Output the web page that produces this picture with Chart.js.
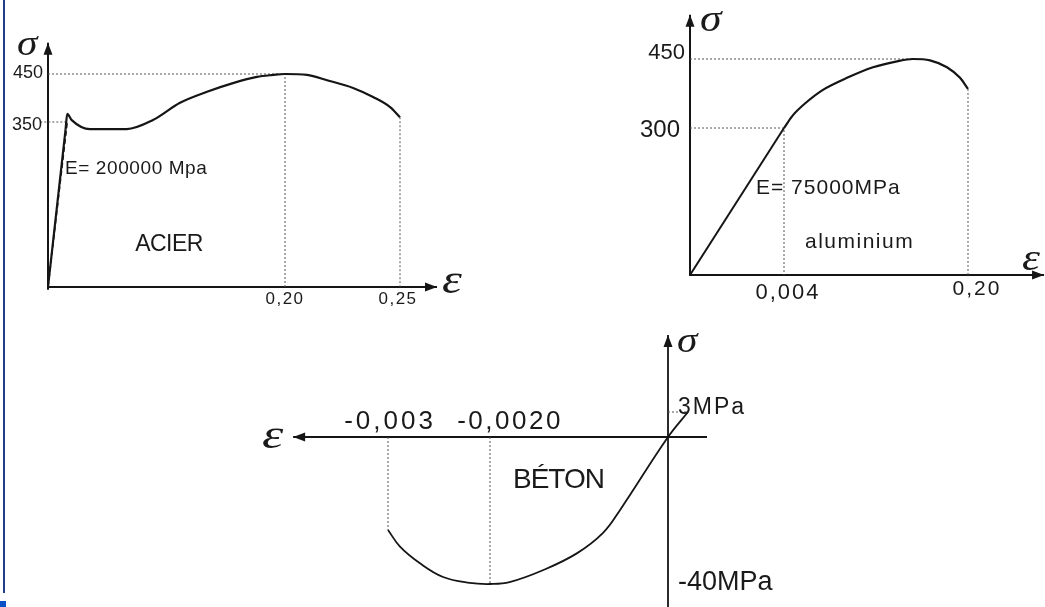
<!DOCTYPE html>
<html>
<head>
<meta charset="utf-8">
<title>Courbes contrainte-déformation</title>
<script src="https://cdn.jsdelivr.net/npm/chart.js@4.4.1/dist/chart.umd.min.js"></script>
<style>
  html, body { margin: 0; padding: 0; background: #fff; }
  #sheet { position: relative; width: 1045px; height: 607px; overflow: hidden; background: #fff; }
  #sheet canvas { position: absolute; left: 0; top: 0; }
  .edge { position: absolute; left: 3px; top: 0; width: 2px; height: 593px; background: #1f3d8e; }
  .corner { position: absolute; left: 0; top: 601px; width: 6px; height: 6px; background: #0b50c4; }
</style>
</head>
<body>
<div id="sheet">
  <canvas id="acier" width="1045" height="607"></canvas>
  <canvas id="alu" width="1045" height="607"></canvas>
  <canvas id="beton" width="1045" height="607"></canvas>
  <div class="edge"></div>
  <div class="corner"></div>
</div>
<script>
  // Acier : déformation / contrainte (MPa)
  const acierStrain = [0, 0.0016, 0.00175, 0.0036, 0.0204, 0.0542, 0.0784, 0.1033, 0.1282, 0.1521, 0.1742, 0.1889, 0.2, 0.2096, 0.2183, 0.2296, 0.2383, 0.2457, 0.25];
  const acierStress = [0, 335, 367, 354, 335, 335, 354, 390, 413, 431, 444, 448, 450, 448, 437, 421, 402, 381, 360];
  const acierModulusStrain = [0, 0.00175];
  const acierModulusStress = [0, 350];
  const acierTicksX = [0.20, 0.25];
  const acierTickLabelsX = ['0,20', '0,25'];
  const acierTicksY = [350, 450];
  const acierTickLabelsY = ['350', '450'];

  // Aluminium
  const aluStrain = [0, 0.004, 0.0136, 0.0285, 0.0455, 0.0711, 0.0988, 0.1244, 0.1414, 0.1595, 0.1776, 0.1915, 0.2];
  const aluStress = [0, 300, 328, 357, 383, 409, 432, 445, 450, 447, 432, 409, 385];
  const aluTicksX = [0.004, 0.20];
  const aluTickLabelsX = ['0,004', '0,20'];
  const aluTicksY = [300, 450];
  const aluTickLabelsY = ['300', '450'];

  // Béton (compression négative)
  const betonStrain = [-0.003, -0.00288, -0.00269, -0.00246, -0.0022, -0.002, -0.00178, -0.0014, -0.00102, -0.00073, -0.00054, 0, 0.0001];
  const betonStress = [-25.3, -29.9, -34.3, -38.1, -39.7, -40, -39.5, -36.2, -31.6, -26.1, -19.9, 0, 3];
  const betonTicksX = [-0.003, -0.002];
  const betonTickLabelsX = ['-0,003', '-0,0020'];
  const betonTicksY = [3, -40];
  const betonTickLabelsY = ['3MPa', '-40MPa'];

  const INK = '#151515';
  const GUIDE = '#555';
  const SANS = '"Liberation Sans", Arial, sans-serif';
  const SERIF = '"Liberation Serif", "Times New Roman", serif';

  // Linear scale whose value -> pixel mapping is broken into segments,
  // the way these schematic diagrams are drawn (not to scale).
  class PiecewiseScale extends Chart.LinearScale {
    static id = 'piecewise';
    static defaults = {};

    getPixelForValue(value) {
      const breaks = this.options.breaks;
      const at = this.options.at;
      const area = this.chart.chartArea;
      const base = this.isHorizontal() ? area.left : area.top;
      let i = 1;
      while (i < breaks.length - 1 && value > breaks[i]) i++;
      const t = (value - breaks[i - 1]) / (breaks[i] - breaks[i - 1]);
      return base + at[i - 1] + t * (at[i] - at[i - 1]);
    }

    getValueForPixel(pixel) {
      const breaks = this.options.breaks;
      const at = this.options.at;
      const area = this.chart.chartArea;
      const p = pixel - (this.isHorizontal() ? area.left : area.top);
      let i = 1;
      while (i < at.length - 1 && (at[1] > at[0] ? p > at[i] : p < at[i])) i++;
      const t = (p - at[i - 1]) / (at[i] - at[i - 1]);
      return breaks[i - 1] + t * (breaks[i] - breaks[i - 1]);
    }
  }
  Chart.register(PiecewiseScale);

  // axes, arrows and texts for each diagram, keyed by canvas id
  const overlays = {};

  function arrowHead(ctx, tx, ty, dx, dy) {
    const len = 12, half = 4.5;
    const bx = tx - dx * len, by = ty - dy * len;
    ctx.beginPath();
    ctx.moveTo(tx, ty);
    ctx.lineTo(bx - dy * half, by + dx * half);
    ctx.lineTo(bx + dy * half, by - dx * half);
    ctx.closePath();
    ctx.fill();
  }

  const sketchAxes = {
    id: 'sketchAxes',
    beforeDatasetsDraw(chart) {
      const o = overlays[chart.canvas.id];
      const { ctx } = chart;
      const xs = chart.scales.x, ys = chart.scales.y;
      const ox = xs.getPixelForValue(0), oy = ys.getPixelForValue(0);
      const xa = xs.getPixelForValue(o.xAxis[0]), xb = xs.getPixelForValue(o.xAxis[1]);
      const ya = ys.getPixelForValue(o.yAxis[0]), yb = ys.getPixelForValue(o.yAxis[1]);
      ctx.save();
      ctx.strokeStyle = INK;
      ctx.fillStyle = INK;
      ctx.lineWidth = o.axisWidth;
      ctx.beginPath();
      ctx.moveTo(xa, oy); ctx.lineTo(xb, oy);
      ctx.moveTo(ox, ya); ctx.lineTo(ox, yb);
      ctx.stroke();
      arrowHead(ctx, xb, oy, xb > xa ? 1 : -1, 0);
      arrowHead(ctx, ox, yb, 0, yb < ya ? -1 : 1);
      ctx.restore();
    },
    afterDatasetsDraw(chart) {
      const o = overlays[chart.canvas.id];
      const { ctx } = chart;
      const xs = chart.scales.x, ys = chart.scales.y;
      o.labels.forEach(l => {
        ctx.save();
        ctx.fillStyle = '#1a1a1a';
        ctx.font = l.font;
        ctx.textAlign = l.align || 'left';
        ctx.textBaseline = l.baseline || 'middle';
        ctx.letterSpacing = (l.spacing || 0) + 'px';
        ctx.translate(xs.getPixelForValue(l.x) + (l.dx || 0), ys.getPixelForValue(l.y) + (l.dy || 0));
        // the Greek symbols are drawn a bit wider than the font gives them
        if (l.stretch) ctx.scale(l.stretch, 1);
        ctx.fillText(l.text, 0, 0);
        ctx.restore();
      });
    }
  };
  Chart.register(sketchAxes);

  function pts(xs, ys) {
    return xs.map((v, i) => ({ x: v, y: ys[i] }));
  }

  function curve(data, width) {
    return {
      data: data,
      showLine: true,
      borderColor: INK,
      borderWidth: width || 2,
      pointRadius: 0,
      cubicInterpolationMode: 'monotone',
      fill: false
    };
  }

  function straight(data, width, dash) {
    return {
      data: data,
      showLine: true,
      borderColor: INK,
      borderWidth: width,
      borderDash: dash || [],
      pointRadius: 0,
      tension: 0,
      fill: false
    };
  }

  function guide(data) {
    return {
      data: data,
      showLine: true,
      borderColor: GUIDE,
      borderWidth: 1,
      borderDash: [2, 2],
      pointRadius: 0,
      tension: 0,
      fill: false
    };
  }

  function drawDiagram(id, xBreaks, xAt, yBreaks, yAt, datasets) {
    const ctx = document.getElementById(id).getContext('2d');
    return new Chart(ctx, {
      type: 'scatter',
      data: { datasets: datasets },
      options: {
        responsive: false,
        animation: false,
        events: [],
        layout: { padding: 0 },
        plugins: { legend: { display: false }, tooltip: { enabled: false } },
        scales: {
          x: { type: 'piecewise', display: false, breaks: xBreaks, at: xAt },
          y: { type: 'piecewise', display: false, breaks: yBreaks, at: yAt }
        }
      }
    });
  }

  // ---- ACIER ----
  overlays.acier = {
    xAxis: [0, 0.2661],
    yAxis: [-6, 515],
    axisWidth: 2,
    labels: [
      { text: acierTickLabelsY[1], x: 0, y: acierTicksY[1], dx: -5, dy: -1, font: '18px ' + SANS, align: 'right' },
      { text: acierTickLabelsY[0], x: 0, y: acierTicksY[0], dx: -6, dy: 3, font: '18px ' + SANS, align: 'right' },
      { text: acierTickLabelsX[0], x: acierTicksX[0], y: 0, dx: 0, dy: 12, font: '17px ' + SANS, align: 'center', spacing: 1.5 },
      { text: acierTickLabelsX[1], x: acierTicksX[1], y: 0, dx: -2, dy: 12, font: '17px ' + SANS, align: 'center', spacing: 1.5 },
      { text: 'E= 200000 Mpa', x: 0.00145, y: 250, dx: 1, font: '19px ' + SANS, spacing: 0.6 },
      { text: 'ACIER', x: 0.062, y: 89, font: '23px ' + SANS, spacing: -0.5 },
      { text: 'σ', x: 0, y: 450, dx: -31, dy: -19, font: 'italic 36px ' + SERIF, baseline: 'alphabetic', stretch: 1.15 },
      { text: 'ε', x: 0.25, y: 0, dx: 42, dy: 6, font: 'italic 42px ' + SERIF, baseline: 'alphabetic', stretch: 1.2 }
    ]
  };
  drawDiagram('acier', [0, 0.002, 0.2, 0.25], [48, 70, 285, 400], [0, 350, 450], [287, 122, 74], [
    straight(pts(acierStrain.slice(0, 2), acierStress.slice(0, 2)), 2.2),
    curve(pts(acierStrain.slice(1), acierStress.slice(1)), 2.2),
    straight(pts(acierModulusStrain, acierModulusStress), 1.6, [5, 3]),
    guide([{ x: 0, y: 450 }, { x: 0.2, y: 450 }, { x: 0.2, y: 0 }]),
    guide([{ x: 0.25, y: acierStress[acierStress.length - 1] }, { x: 0.25, y: 0 }]),
    guide([{ x: -0.0007, y: 350 }, { x: 0.00175, y: 350 }])
  ]);

  // ---- ALUMINIUM ----
  overlays.alu = {
    xAxis: [0, 0.281],
    yAxis: [-2, 546],
    axisWidth: 2,
    labels: [
      { text: aluTickLabelsY[1], x: 0, y: aluTicksY[1], dx: -5, dy: -6, font: '22px ' + SANS, align: 'right' },
      { text: aluTickLabelsY[0], x: 0, y: aluTicksY[0], dx: -10, dy: 2, font: '24px ' + SANS, align: 'right' },
      { text: aluTickLabelsX[0], x: aluTicksX[0], y: 0, dx: 4, dy: 18, font: '22px ' + SANS, align: 'center', spacing: 2 },
      { text: aluTickLabelsX[1], x: aluTicksX[1], y: 0, dx: 9, dy: 14, font: '21px ' + SANS, align: 'center', spacing: 2 },
      { text: 'E= 75000MPa', x: 0.004, y: 178, dx: -28, font: '21px ' + SANS, spacing: 1 },
      { text: 'aluminium', x: 0.004, y: 0, dx: 21, dy: -33, font: '21px ' + SANS, spacing: 1.5 },
      { text: 'σ', x: 0, y: 450, dx: 10, dy: -28, font: 'italic 38px ' + SERIF, baseline: 'alphabetic', stretch: 1.15 },
      { text: 'ε', x: 0.2, y: 0, dx: 54, dy: -5, font: 'italic 38px ' + SERIF, baseline: 'alphabetic', stretch: 1.2 }
    ]
  };
  drawDiagram('alu', [0, 0.004, 0.2], [690, 784, 968], [0, 300, 450], [275, 128, 59], [
    straight(pts(aluStrain.slice(0, 2), aluStress.slice(0, 2)), 2),
    curve(pts(aluStrain.slice(1), aluStress.slice(1)), 2.2),
    guide([{ x: 0, y: 450 }, { x: 0.1414, y: 450 }]),
    guide([{ x: 0, y: 300 }, { x: 0.004, y: 300 }, { x: 0.004, y: 0 }]),
    guide([{ x: 0.2, y: aluStress[aluStress.length - 1] }, { x: 0.2, y: 0 }])
  ]);

  // ---- BÉTON ----
  overlays.beton = {
    xAxis: [0.000195, -0.00393],
    yAxis: [-46.3, 12.24],
    axisWidth: 1.8,
    labels: [
      { text: betonTickLabelsX[0], x: betonTicksX[0], y: 0, dx: 2, dy: -15, font: '26px ' + SANS, align: 'center', spacing: 3 },
      { text: betonTickLabelsX[1], x: betonTicksX[1], y: 0, dx: 20, dy: -15, font: '26px ' + SANS, align: 'center', spacing: 2.5 },
      { text: betonTickLabelsY[0], x: 0, y: betonTicksY[0], dx: 10, dy: -4, font: '23px ' + SANS, spacing: 2 },
      { text: betonTickLabelsY[1], x: 0, y: betonTicksY[1], dx: 10, dy: -1, font: '27px ' + SANS },
      { text: 'BÉTON', x: -0.002, y: 0, dx: 23, dy: 43, font: '28px ' + SANS, spacing: -1 },
      { text: 'σ', x: 0, y: 3, dx: 9, dy: -60, font: 'italic 36px ' + SERIF, baseline: 'alphabetic', stretch: 1.15 },
      { text: 'ε', x: -0.003, y: 0, dx: -126, dy: 11, font: 'italic 40px ' + SERIF, baseline: 'alphabetic', stretch: 1.35 }
    ]
  };
  const betonCurve = curve(pts(betonStrain, betonStress), 1.8);
  betonCurve.cubicInterpolationMode = 'default';
  betonCurve.tension = 0.4;
  drawDiagram('beton', [-0.003, -0.002, 0, 0.0001], [388, 490, 668, 688], [-40, 0, 3], [584, 437, 412], [
    betonCurve,
    guide([{ x: -0.003, y: 0 }, { x: -0.003, y: betonStress[0] }]),
    guide([{ x: -0.002, y: 0 }, { x: -0.002, y: -40 }]),
    guide([{ x: 0, y: 3 }, { x: 0.0001, y: 3 }])
  ]);
</script>
</body>
</html>
